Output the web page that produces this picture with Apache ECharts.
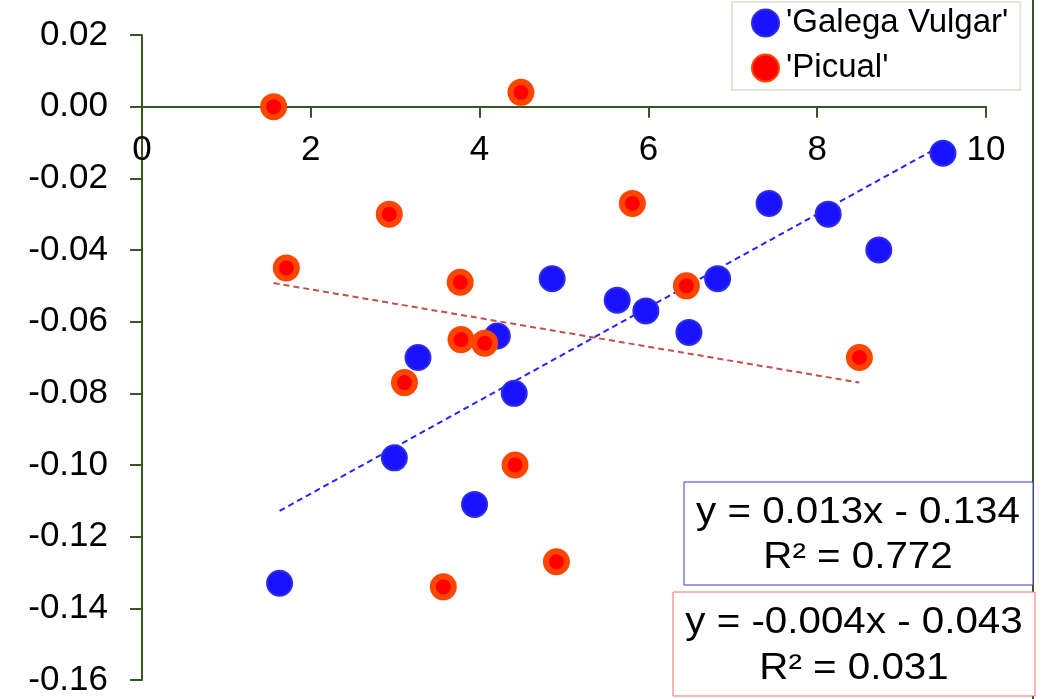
<!DOCTYPE html>
<html>
<head>
<meta charset="utf-8">
<script src="https://cdn.jsdelivr.net/npm/echarts@6/dist/echarts.min.js"></script>
<style>
  html, body { margin: 0; padding: 0; background: #fff; }
  #chart { width: 1047px; height: 699px; }
</style>
</head>
<body>
<div id="chart"></div>
<script>
// values
var galegaX = [1.63, 2.99, 3.27, 3.94, 4.21, 4.41, 4.86, 5.63, 5.97, 6.48, 6.82, 7.43, 8.13, 8.73, 9.49]
var galegaY = [-0.133, -0.098, -0.070, -0.111, -0.064, -0.080, -0.048, -0.054, -0.057, -0.063, -0.048, -0.027, -0.030, -0.040, -0.013]

var picualX = [1.56, 1.71, 2.93, 3.11, 3.57, 3.77, 3.78, 4.06, 4.42, 4.49, 4.91, 5.81, 6.45, 8.50]
var picualY = [0.000, -0.045, -0.030, -0.077, -0.134, -0.049, -0.065, -0.066, -0.100, 0.004, -0.127, -0.027, -0.050, -0.070]

// trend lines as printed on the chart: [slope, intercept]
var galegaFit = [0.013, -0.134]
var picualFit = [-0.004, -0.043]
var galegaLabel = ['y = 0.013x - 0.134', 'R² = 0.772']
var picualLabel = ['y = -0.004x - 0.043', 'R² = 0.031']

var seriesNames = ["'Galega Vulgar'", "'Picual'"]

function pairs(xs, ys) {
  return xs.map(function (x, i) { return [x, ys[i]] })
}
function fitLine(xs, fit) {
  var lo = Math.min.apply(null, xs)
  var hi = Math.max.apply(null, xs)
  return [[lo, fit[0] * lo + fit[1]], [hi, fit[0] * hi + fit[1]]]
}

var font = '"Liberation Sans", Arial, sans-serif'
var axisColor = '#375623'

var gridTop = 35, gridBottom = 19, chartH = 699
var yMin = -0.16, yMax = 0.02
// x axis sits on y = 0: push the top axis down by the distance from yMax to 0
var zeroOffset = -(yMax - 0) / (yMax - yMin) * (chartH - gridTop - gridBottom)

function eqBox(x, y, w, h, stroke, lines, cx) {
  return {
    type: 'group',
    children: [
      { type: 'rect', shape: { x: x, y: y, width: w, height: h },
        style: { fill: '#fff', stroke: stroke, lineWidth: 1 } },
      { type: 'text', x: cx, y: y + h * 0.3, scaleX: 1.12,
        style: { text: lines[0], font: '36px ' + font, fill: '#000', align: 'center', verticalAlign: 'middle' } },
      { type: 'text', x: cx, y: y + h * 0.74, scaleX: 1.12,
        style: { text: lines[1], font: '36px ' + font, fill: '#000', align: 'center', verticalAlign: 'middle' } }
    ]
  }
}

var chart = echarts.init(document.getElementById('chart'))

var option = {
  animation: false,
  backgroundColor: '#fff',
  grid: { left: 142, right: 61, top: gridTop, bottom: gridBottom, containLabel: false, outerBoundsMode: 'none' },
  xAxis: {
    type: 'value', min: 0, max: 10, interval: 2,
    position: 'top', offset: zeroOffset,
    axisLine: { show: true, onZero: false, lineStyle: { color: axisColor, width: 2 } },
    axisTick: { show: true, inside: true, length: 11, lineStyle: { color: axisColor, width: 2 } },
    axisLabel: { inside: true, color: '#000', fontSize: 35, fontFamily: font, margin: 26 },
    splitLine: { show: false }
  },
  yAxis: {
    type: 'value', min: yMin, max: yMax, interval: 0.02,
    axisLine: { show: true, onZero: false, lineStyle: { color: axisColor, width: 2 } },
    axisTick: { show: true, inside: false, length: 12, lineStyle: { color: axisColor, width: 2 } },
    axisLabel: { color: '#000', fontSize: 35, fontFamily: font, margin: 34,
      formatter: function (v) { return v.toFixed(2) } },
    splitLine: { show: false }
  },
  legend: {
    data: seriesNames,
    orient: 'vertical',
    left: 732, top: 2,
    padding: [3, 12, 4, 19],
    itemGap: 9,
    itemWidth: 27, itemHeight: 27,
    backgroundColor: '#fff',
    borderColor: '#e4e4da', borderWidth: 2, borderRadius: 0,
    textStyle: { color: '#000', fontSize: 33, fontFamily: font, lineHeight: 36, padding: [0, 0, 0, 2] }
  },
  series: [
    {
      type: 'line', data: fitLine(galegaX, galegaFit), symbol: 'none', z: 1,
      lineStyle: { color: '#2424ff', width: 2, type: [6, 4] }, silent: true
    },
    {
      type: 'line', data: fitLine(picualX, picualFit), symbol: 'none', z: 1,
      lineStyle: { color: '#c0504d', width: 2, type: [6, 4] }, silent: true
    },
    {
      name: seriesNames[0], type: 'scatter', data: pairs(galegaX, galegaY), z: 3,
      symbol: 'circle', symbolSize: 25,
      itemStyle: { color: '#1a12ff', borderColor: '#2d2de6', borderWidth: 2, opacity: 1 }
    },
    {
      name: seriesNames[1], type: 'scatter', data: pairs(picualX, picualY), z: 4,
      symbol: 'circle', symbolSize: 21,
      itemStyle: { color: '#ff0000', borderColor: '#ff4500', borderWidth: 6, opacity: 1 }
    }
  ],
  graphic: [
    { type: 'line', shape: { x1: 1033, y1: 0, x2: 1033, y2: 699 },
      style: { stroke: axisColor, lineWidth: 2 } },
    eqBox(684, 482, 349, 103, '#3c3cd0', galegaLabel, 858),
    eqBox(673, 592, 362, 104, '#ff6a6a', picualLabel, 854)
  ]
}

chart.setOption(option)
</script>
</body>
</html>
